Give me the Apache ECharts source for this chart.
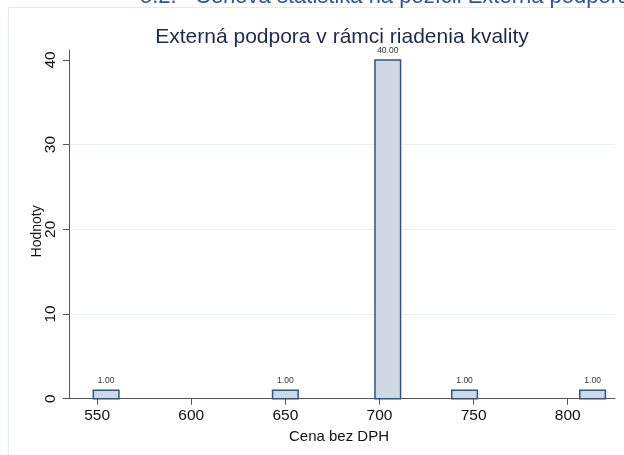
<!DOCTYPE html>
<html>
<head>
<meta charset="utf-8">
<script src="https://cdn.jsdelivr.net/npm/echarts@6/dist/echarts.min.js"></script>
<style>
html,body{margin:0;padding:0;background:#fff;}
#chart{width:624px;height:455px;}
</style>
</head>
<body>
<div id="chart"></div>
<script>
// Data
const binStart = [548, 643.2, 697.6, 738.4, 806.4];
const binEnd   = [561.6, 656.8, 711.2, 752, 820];
const counts   = [1, 1, 40, 1, 1];
const xTicks = [550, 600, 650, 700, 750, 800];
const yTicks = [0, 10, 20, 30, 40];
const titleText = 'Externá podpora v rámci riadenia kvality';
const headingNum = '5.2.';
const headingText = 'Cenová štatistika na pozícii Externá podpora';
const xName = 'Cena bez DPH';
const yName = 'Hodnoty';

const FONT = '"Liberation Sans", Arial, Helvetica, sans-serif';
const data = binStart.map((s, i) => [s, binEnd[i], counts[i]]);

const chart = echarts.init(document.getElementById('chart'), null, {renderer: 'canvas'});
chart.setOption({
  backgroundColor: '#ffffff',
  animation: false,
  grid: {left: 63, right: 9, top: 50, bottom: 56.3, containLabel: false},
  xAxis: {
    type: 'value', min: 531.9, max: 825.1,
    name: xName, nameLocation: 'middle', nameGap: 31, nameMoveOverlap: false,
    nameTextStyle: {fontFamily: FONT, fontSize: 15, color: '#111'},
    axisLine: {show: true, lineStyle: {color: '#555', width: 1}},
    axisTick: {show: true, length: 6, customValues: xTicks, lineStyle: {color: '#555'}},
    axisLabel: {customValues: xTicks, fontFamily: FONT, fontSize: 15.5, color: '#111', margin: 9},
    splitLine: {show: false}
  },
  yAxis: {
    type: 'value', min: 0, max: 41.17, offset: -6,
    name: yName, nameLocation: 'middle', nameGap: 25, nameMoveOverlap: false,
    nameTextStyle: {fontFamily: FONT, fontSize: 14, color: '#111', padding: [0, 14, 0, 0]},
    axisLine: {show: true, lineStyle: {color: '#555', width: 1}},
    axisTick: {show: true, length: 6, customValues: yTicks, lineStyle: {color: '#555'}},
    axisLabel: {customValues: yTicks, rotate: 90, fontFamily: FONT, fontSize: 15.5, color: '#111', margin: 10},
    splitLine: {show: true, showMinLine: false, showMaxLine: false, lineStyle: {color: '#e8eff2', width: 1}}
  },
  graphic: [
    {type: 'line', shape: {x1: 8.5, y1: 7.5, x2: 624, y2: 7.5}, style: {stroke: '#e4ebef', lineWidth: 1}, silent: true},
    {type: 'line', shape: {x1: 8.5, y1: 7.5, x2: 8.5, y2: 455}, style: {stroke: '#e4ebef', lineWidth: 1}, silent: true},
    {type: 'text', x: 140, y: 8, style: {text: headingNum, fontFamily: FONT, fontSize: 22, fill: '#2f5597', verticalAlign: 'bottom', align: 'left'}, silent: true},
    {type: 'text', x: 195, y: 8, style: {text: headingText, fontFamily: FONT, fontSize: 22, fill: '#2f5597', verticalAlign: 'bottom', align: 'left'}, silent: true},
    {type: 'text', x: 342, y: 37, style: {text: titleText, fontFamily: FONT, fontSize: 21, fill: '#1c2b4c', verticalAlign: 'middle', align: 'center'}, silent: true}
  ],
  series: [{
    type: 'custom',
    data: data,
    encode: {x: [0, 1], y: 2},
    clip: false,
    renderItem: function (params, api) {
      const x0 = api.value(0), x1 = api.value(1), v = api.value(2);
      const p0 = api.coord([x0, v]);
      const p1 = api.coord([x1, 0]);
      return {
        type: 'group',
        children: [
          {type: 'rect', shape: {x: p0[0], y: p0[1], width: p1[0] - p0[0], height: p1[1] - p0[1]},
           style: {fill: '#d0d9e3', stroke: '#2f5580', lineWidth: 1.5}},
          {type: 'text', style: {text: v.toFixed(2), x: (p0[0] + p1[0]) / 2, y: p0[1] - 5,
           align: 'center', verticalAlign: 'bottom', fontFamily: FONT, fontSize: 8.5, fill: '#333'}}
        ]
      };
    }
  }]
});
</script>
</body>
</html>
